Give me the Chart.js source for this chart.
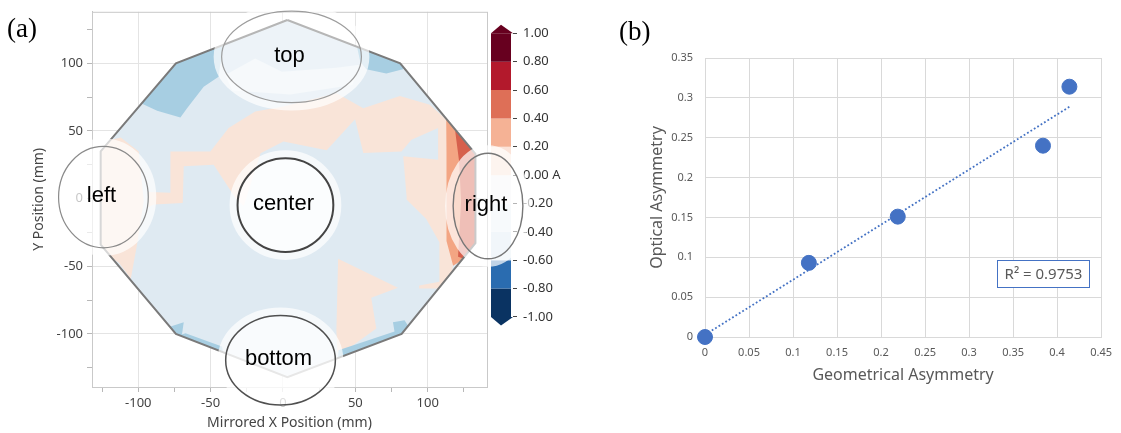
<!DOCTYPE html>
<html>
<head>
<meta charset="utf-8">
<title>Wafer asymmetry</title>
<script src="https://cdn.jsdelivr.net/npm/chart.js@4.4.1/dist/chart.umd.min.js"></script>
<style>
  body { margin: 0; background: #fff; }
  #page { position: relative; width: 1121px; height: 433px; overflow: hidden; background: #fff; }
  .box { position: absolute; top: 0; height: 433px; }
  #barBox { left: 470px; width: 100px; }
  #mapBox { left: 0; width: 570px; }
  #fitBox { left: 600px; width: 521px; }
  .tag { position: absolute; font-family: "Liberation Serif", "Times New Roman", serif; font-size: 27px; line-height: 27px; color: #000; }
</style>
</head>
<body>
<div id="page">
  <div class="box" id="barBox"><canvas id="colorbar"></canvas></div>
  <div class="box" id="mapBox"><canvas id="wafermap"></canvas></div>
  <div class="box" id="fitBox"><canvas id="fit"></canvas></div>
  <div class="tag" style="left:7px;top:15px">(a)</div>
  <div class="tag" style="left:619px;top:18px">(b)</div>
</div>
<script>
// ---------- (a) wafer map data, mm ----------
const waferX = [3, 81, 133, 133, 82, 3, -74, -126, -126, -74];
const waferY = [132, 100, 33, -33, -100, -132, -100, -34, 35, 100];

// contour patches as [x, y] outlines (clipped to the wafer when drawn)
const paleTop = [[-39.9, 91.3], [-19.2, 103.5], [-0.8, 93.8], [36.9, 96.7], [52.8, 98.9], [48, 84], [5, 77], [-35, 80]];
const salmonBand = [
  [-92.8, -6.3], [-92.8, 4.8], [-77.8, 4.3], [-77.8, 34.9], [-50.2, 34.9], [-37.6, 52.1], [-19.2, 64.3],
  [0.3, 68.0], [37.1, 77.8], [55.5, 66.8], [80.8, 75.9], [101.5, 69.3], [113.0, 58.2], [117.6, 34.9],
  [119.7, -31.3], [115.5, -64.3], [110.0, -66.5], [94.1, -66.5], [94.1, -64.3], [108.1, -61.4],
  [108.1, -32.2], [99.0, -15.1], [85.2, -0.4], [85.4, 1.8], [83.1, 31.3], [107.2, 28.8], [107.2, 52.1],
  [88.8, 43.5], [81.9, 34.9], [55.5, 33.7], [49.8, 58.7], [30.2, 35.7], [0.3, 42.3], [-15.5, 33.5],
  [-27.2, -5.5], [-33.0, 0.6], [-47.9, 25.1], [-68.6, 23.9], [-69.3, -3.3], [-89.3, -4.3]
];
const salmonLowerRight = [[38.1, -44.5], [79.4, -66.0], [61.0, -73.4], [64.5, -96.0], [41.7, -113.6], [37.6, -113.6], [36.9, -97.4]];
const salmonLeft = [[-123.8, 42.3], [-112.1, 45.2], [-99.7, 34.9], [-96.2, -1.8], [-101.0, -34.9], [-105.2, -59.2], [-113.4, -47.4], [-130, -36.4], [-130, 40]];
const blueTopLeft = [[-100, 110], [-40, 125], [-44.5, 90.1], [-54.8, 82.7], [-66.3, 66.8], [-70.9, 59.9], [-87, 64.9], [-97, 70]];
const blueTopRight = [[50, 118], [90, 108], [82.9, 95.7], [71.4, 92.5], [57.6, 95.7], [53.4, 101.1]];
const blueBottomLeft = [[-82, -96], [-68.6, -91.5], [-70, -102], [-80, -106]];
const blueEdgeLeft = [[-80, -104], [-40, -120], [-42.2, -109.4], [-67.4, -99.6]];
const blueBottomRight = [[76, -91.5], [84, -89.9], [90, -100], [80, -106], [77.1, -98.4]];
const blueEdgeRight = [[38.3, -112.1], [79.7, -97.4], [86, -104], [38, -122]];
const darkSalmonEdge = [[112.8, 59.2], [127.9, 40.1], [140, 30], [140, -40], [123.1, -46.0], [117.6, -49.6], [113.0, -31.3], [113.0, 34.9]];
const redEdge = [[119.0, 50.0], [140, 38], [140, -40], [125.2, -44.5], [121.0, -43.0], [123.1, -1.8], [121.7, 27.6]];

// colour scale levels
const cbLevels = [1.0, 0.8, 0.6, 0.4, 0.2, 0.0, -0.2, -0.4, -0.6, -0.8, -1.0];
const cbColors = ['#67001f', '#b3192c', '#de6f57', '#f5b295', '#fbe3d8', '#f5f6f8', '#eaf2f8', '#dde9f2', '#2a6cb0', '#0a3362'];

// ---------- (b) asymmetry data ----------
const geomAsym = [0, 0.118, 0.219, 0.384, 0.414];
const optAsym = [0, 0.093, 0.151, 0.240, 0.314];
const rSquared = '0.9753';

const F = '"Noto Sans", "DejaVu Sans", sans-serif';
Chart.defaults.font.family = F;
Chart.defaults.animation = false;

const toPts = arr => arr.map(p => ({ x: p[0], y: p[1] }));
const waferPts = waferX.map((x, i) => [x, waferY[i]]);

// ---------- colour bar ----------
const cbDatasets = [];
for (let i = 0; i < cbColors.length; i++) {
  const hi = cbLevels[i], lo = cbLevels[i + 1];
  cbDatasets.push({
    data: toPts([[0, hi], [1, hi], [1, lo], [0, lo]]),
    showLine: true, fill: 'shape', backgroundColor: cbColors[i],
    borderColor: 'transparent', borderWidth: 0, pointRadius: 0
  });
}
const arrowTip = 0.06;
cbDatasets.push({
  data: toPts([[0, cbLevels[0]], [1.1, cbLevels[0]], [0.5, cbLevels[0] + arrowTip]]),
  showLine: true, fill: 'shape', backgroundColor: cbColors[0], borderColor: 'transparent', borderWidth: 0, pointRadius: 0
});
cbDatasets.push({
  data: toPts([[0, cbLevels[10]], [1.1, cbLevels[10]], [0.5, cbLevels[10] - arrowTip]]),
  showLine: true, fill: 'shape', backgroundColor: cbColors[9], borderColor: 'transparent', borderWidth: 0, pointRadius: 0
});

new Chart(document.getElementById('colorbar'), {
  type: 'scatter',
  data: { datasets: cbDatasets },
  options: {
    responsive: true, maintainAspectRatio: false, events: [],
    layout: { padding: { left: 21, top: 20, right: 0, bottom: 103 } },
    plugins: { legend: { display: false }, tooltip: { enabled: false } },
    scales: {
      x: { type: 'linear', min: 0, max: 1.1, display: false },
      y: {
        position: 'right', min: -1.092, max: 1.094,
        afterFit: s => { s.width = 57; },
        border: { display: false },
        grid: { drawOnChartArea: false, tickLength: 4, tickColor: '#444' },
        ticks: {
          stepSize: 0.2, includeBounds: false, padding: 6, color: '#333', font: { size: 13 },
          callback: v => Math.abs(v) < 1e-9 ? '0.00 A' : v.toFixed(2)
        }
      }
    }
  }
});

// ---------- wafer map ----------
const mapLayers = [
  { pts: waferPts, color: '#dfeaf2' },
  { pts: paleTop, color: '#eef4f8' },
  { pts: salmonBand, color: '#f9e4d8' },
  { pts: salmonLowerRight, color: '#f9e4d8' },
  { pts: salmonLeft, color: '#f9e4d8' },
  { pts: blueTopLeft, color: '#a7cee2' },
  { pts: blueTopRight, color: '#a7cee2' },
  { pts: blueBottomLeft, color: '#a7cee2' },
  { pts: blueEdgeLeft, color: '#a7cee2' },
  { pts: blueBottomRight, color: '#a7cee2' },
  { pts: blueEdgeRight, color: '#a7cee2' },
  { pts: darkSalmonEdge, color: '#f3a583' },
  { pts: redEdge, color: '#d6604d' }
];
const mapDatasets = mapLayers.map((l, i) => ({
  data: toPts(l.pts),
  showLine: true, fill: 'shape', backgroundColor: l.color,
  borderColor: 'transparent', borderWidth: 0, pointRadius: 0,
  order: 100 - i
}));
// wafer outline, drawn last and not clipped
mapDatasets.push({
  data: toPts(waferPts.concat([waferPts[0]])),
  showLine: true, fill: false, borderColor: '#7a7a7a', borderWidth: 2,
  pointRadius: 0, order: 0, outline: true
});

// measurement zones (annotations)
const zones = [
  { name: 'top', x: 5.9, y: 104.8, rx: 48.3, ry: 33.8, alpha: 0.45, line: '#9c9c9c', lw: 1.2 },
  { name: 'left', x: -124.1, y: 1.1, rx: 31, ry: 37.5, alpha: 0.7, line: '#8a8a8a', lw: 1.2 },
  { name: 'center', x: 1.7, y: -4.8, rx: 33.1, ry: 34.6, alpha: 0.88, line: '#444', lw: 2 },
  { name: 'right', x: 141.7, y: -5.5, rx: 24.1, ry: 39, alpha: 0.6, line: '#777', lw: 1.4 },
  { name: 'bottom', x: -1.7, y: -119.5, rx: 37.9, ry: 33.1, alpha: 0.82, line: '#505050', lw: 1.5 }
];

const waferPlugin = {
  id: 'waferPlugin',
  beforeDatasetsDraw(chart) {
    const { ctx, chartArea: a, scales: { x, y } } = chart;
    ctx.save();
    ctx.strokeStyle = '#c9c9c9';
    ctx.lineWidth = 1;
    ctx.strokeRect(a.left + 0.5, a.top + 0.5, a.right - a.left, a.bottom - a.top);
    ctx.restore();
    ctx.save();
    ctx.beginPath();
    waferX.forEach((v, i) => {
      const px = x.getPixelForValue(v), py = y.getPixelForValue(waferY[i]);
      if (i) ctx.lineTo(px, py); else ctx.moveTo(px, py);
    });
    ctx.closePath();
    ctx.clip();
    chart.$clipped = true;
  },
  beforeDatasetDraw(chart, args) {
    if (chart.data.datasets[args.index].outline && chart.$clipped) {
      chart.ctx.restore();
      chart.$clipped = false;
    }
  },
  afterDatasetsDraw(chart) {
    if (chart.$clipped) { chart.ctx.restore(); chart.$clipped = false; }
  },
  afterDraw(chart) {
    const { ctx, scales: { x, y } } = chart;
    zones.forEach(z => {
      const cx = x.getPixelForValue(z.x), cy = y.getPixelForValue(z.y);
      const rx = Math.abs(x.getPixelForValue(z.x + z.rx) - cx);
      const ry = Math.abs(y.getPixelForValue(z.y + z.ry) - cy);
      ctx.save();
      ctx.beginPath();
      ctx.ellipse(cx, cy, rx + 4, ry + 4, 0, 0, Math.PI * 2);
      ctx.lineWidth = 8;
      ctx.strokeStyle = 'rgba(255,255,255,0.7)';
      ctx.stroke();
      ctx.beginPath();
      ctx.ellipse(cx, cy, rx, ry, 0, 0, Math.PI * 2);
      ctx.fillStyle = 'rgba(255,255,255,' + z.alpha + ')';
      ctx.fill();
      ctx.lineWidth = z.lw;
      ctx.strokeStyle = z.line;
      ctx.stroke();
      ctx.fillStyle = '#000';
      ctx.font = '22px "Liberation Sans", Arial, sans-serif';
      ctx.textAlign = 'center';
      ctx.textBaseline = 'middle';
      ctx.fillText(z.name, cx - 2, cy - 1);
      ctx.restore();
    });
  }
};

const mapGrid = c => (c.tick && c.tick.value % 50 === 0) ? '#e4e4e4' : 'rgba(0,0,0,0)';
const mapTick = v => v % 50 === 0 ? String(v) : '';

new Chart(document.getElementById('wafermap'), {
  type: 'scatter',
  data: { datasets: mapDatasets },
  options: {
    responsive: true, maintainAspectRatio: false, events: [],
    layout: { padding: { left: 0, top: 10, right: 83, bottom: 0 } },
    plugins: { legend: { display: false }, tooltip: { enabled: false } },
    scales: {
      x: {
        type: 'linear', min: -132, max: 141,
        afterFit: s => { s.height = 46; },
        border: { color: '#c4c4c4' },
        grid: { color: mapGrid, tickColor: '#b8b8b8', tickLength: 5 },
        ticks: { stepSize: 25, includeBounds: false, autoSkip: false, maxRotation: 0, padding: 3, color: '#444', font: { size: 13 }, callback: mapTick },
        title: { display: true, text: 'Mirrored X Position (mm)', color: '#444', font: { size: 14 }, padding: { top: 0, bottom: 2 } }
      },
      y: {
        type: 'linear', min: -139.3, max: 138.1,
        afterFit: s => { s.width = 92; },
        border: { color: '#c4c4c4' },
        grid: { color: mapGrid, tickColor: '#b8b8b8', tickLength: 5 },
        ticks: { stepSize: 25, includeBounds: false, autoSkip: false, padding: 4, color: '#444', font: { size: 13 }, callback: mapTick },
        title: { display: true, text: 'Y Position (mm)', color: '#444', font: { size: 14 }, padding: { top: 31, bottom: 0 } }
      }
    }
  },
  plugins: [waferPlugin]
});

// ---------- (b) optical vs geometrical asymmetry ----------
// linear trendline from the points
const n = geomAsym.length;
const mx = geomAsym.reduce((s, v) => s + v, 0) / n;
const my = optAsym.reduce((s, v) => s + v, 0) / n;
let sxy = 0, sxx = 0;
for (let i = 0; i < n; i++) {
  sxy += (geomAsym[i] - mx) * (optAsym[i] - my);
  sxx += (geomAsym[i] - mx) ** 2;
}
const slope = sxy / sxx;
const icpt = my - slope * mx;
const xEnd = Math.max(...geomAsym);

const r2Box = { x0: 0.332, x1: 0.4365, y0: 0.0624, y1: 0.0962 };
const r2Plugin = {
  id: 'r2Plugin',
  afterDraw(chart) {
    const { ctx, scales: { x, y } } = chart;
    const l = Math.round(x.getPixelForValue(r2Box.x0)) + 0.5, r = Math.round(x.getPixelForValue(r2Box.x1)) + 0.5;
    const t = Math.round(y.getPixelForValue(r2Box.y1)) + 0.5, b = Math.round(y.getPixelForValue(r2Box.y0)) + 0.5;
    ctx.save();
    ctx.fillStyle = '#fff';
    ctx.fillRect(l, t, r - l, b - t);
    ctx.strokeStyle = '#4472c4';
    ctx.lineWidth = 1;
    ctx.strokeRect(l, t, r - l, b - t);
    ctx.fillStyle = '#595959';
    ctx.font = '15px ' + F;
    ctx.textAlign = 'center';
    ctx.textBaseline = 'middle';
    ctx.fillText('R\u00b2 = ' + rSquared, (l + r) / 2, (t + b) / 2 + 1);
    ctx.restore();
  }
};

const fitTick = v => String(+v.toFixed(2));

new Chart(document.getElementById('fit'), {
  type: 'scatter',
  data: {
    datasets: [
      {
        data: geomAsym.map((g, i) => ({ x: g, y: optAsym[i] })),
        backgroundColor: '#4472c4', borderColor: '#4472c4', pointRadius: 7.5, clip: false, order: 0
      },
      {
        data: [{ x: 0, y: icpt }, { x: xEnd, y: icpt + slope * xEnd }],
        showLine: true, fill: false, borderColor: '#4472c4', borderWidth: 1.8,
        borderDash: [1.8, 2.2], pointRadius: 0, order: 1
      }
    ]
  },
  options: {
    responsive: true, maintainAspectRatio: false, events: [],
    layout: { padding: { left: 0, top: 58, right: 12, bottom: 0 } },
    plugins: { legend: { display: false }, tooltip: { enabled: false } },
    scales: {
      x: {
        type: 'linear', min: 0, max: 0.45,
        afterFit: s => { s.height = 96; },
        border: { color: '#d9d9d9' },
        grid: { color: '#d9d9d9', drawTicks: false },
        ticks: { stepSize: 0.05, padding: 9, color: '#595959', font: { size: 11 }, maxRotation: 0, callback: fitTick },
        title: { display: true, text: 'Geometrical Asymmetry', color: '#595959', font: { size: 16 }, padding: { top: 0, bottom: 48 } }
      },
      y: {
        type: 'linear', min: 0, max: 0.35,
        afterFit: s => { s.width = 105; },
        border: { color: '#d9d9d9' },
        grid: { color: '#d9d9d9', drawTicks: false },
        ticks: { stepSize: 0.05, padding: 12, color: '#595959', font: { size: 11 }, callback: fitTick },
        title: { display: true, text: 'Optical Asymmetry', color: '#595959', font: { size: 16 }, padding: { top: 48, bottom: 0 } }
      }
    }
  },
  plugins: [r2Plugin]
});
</script>
</body>
</html>
